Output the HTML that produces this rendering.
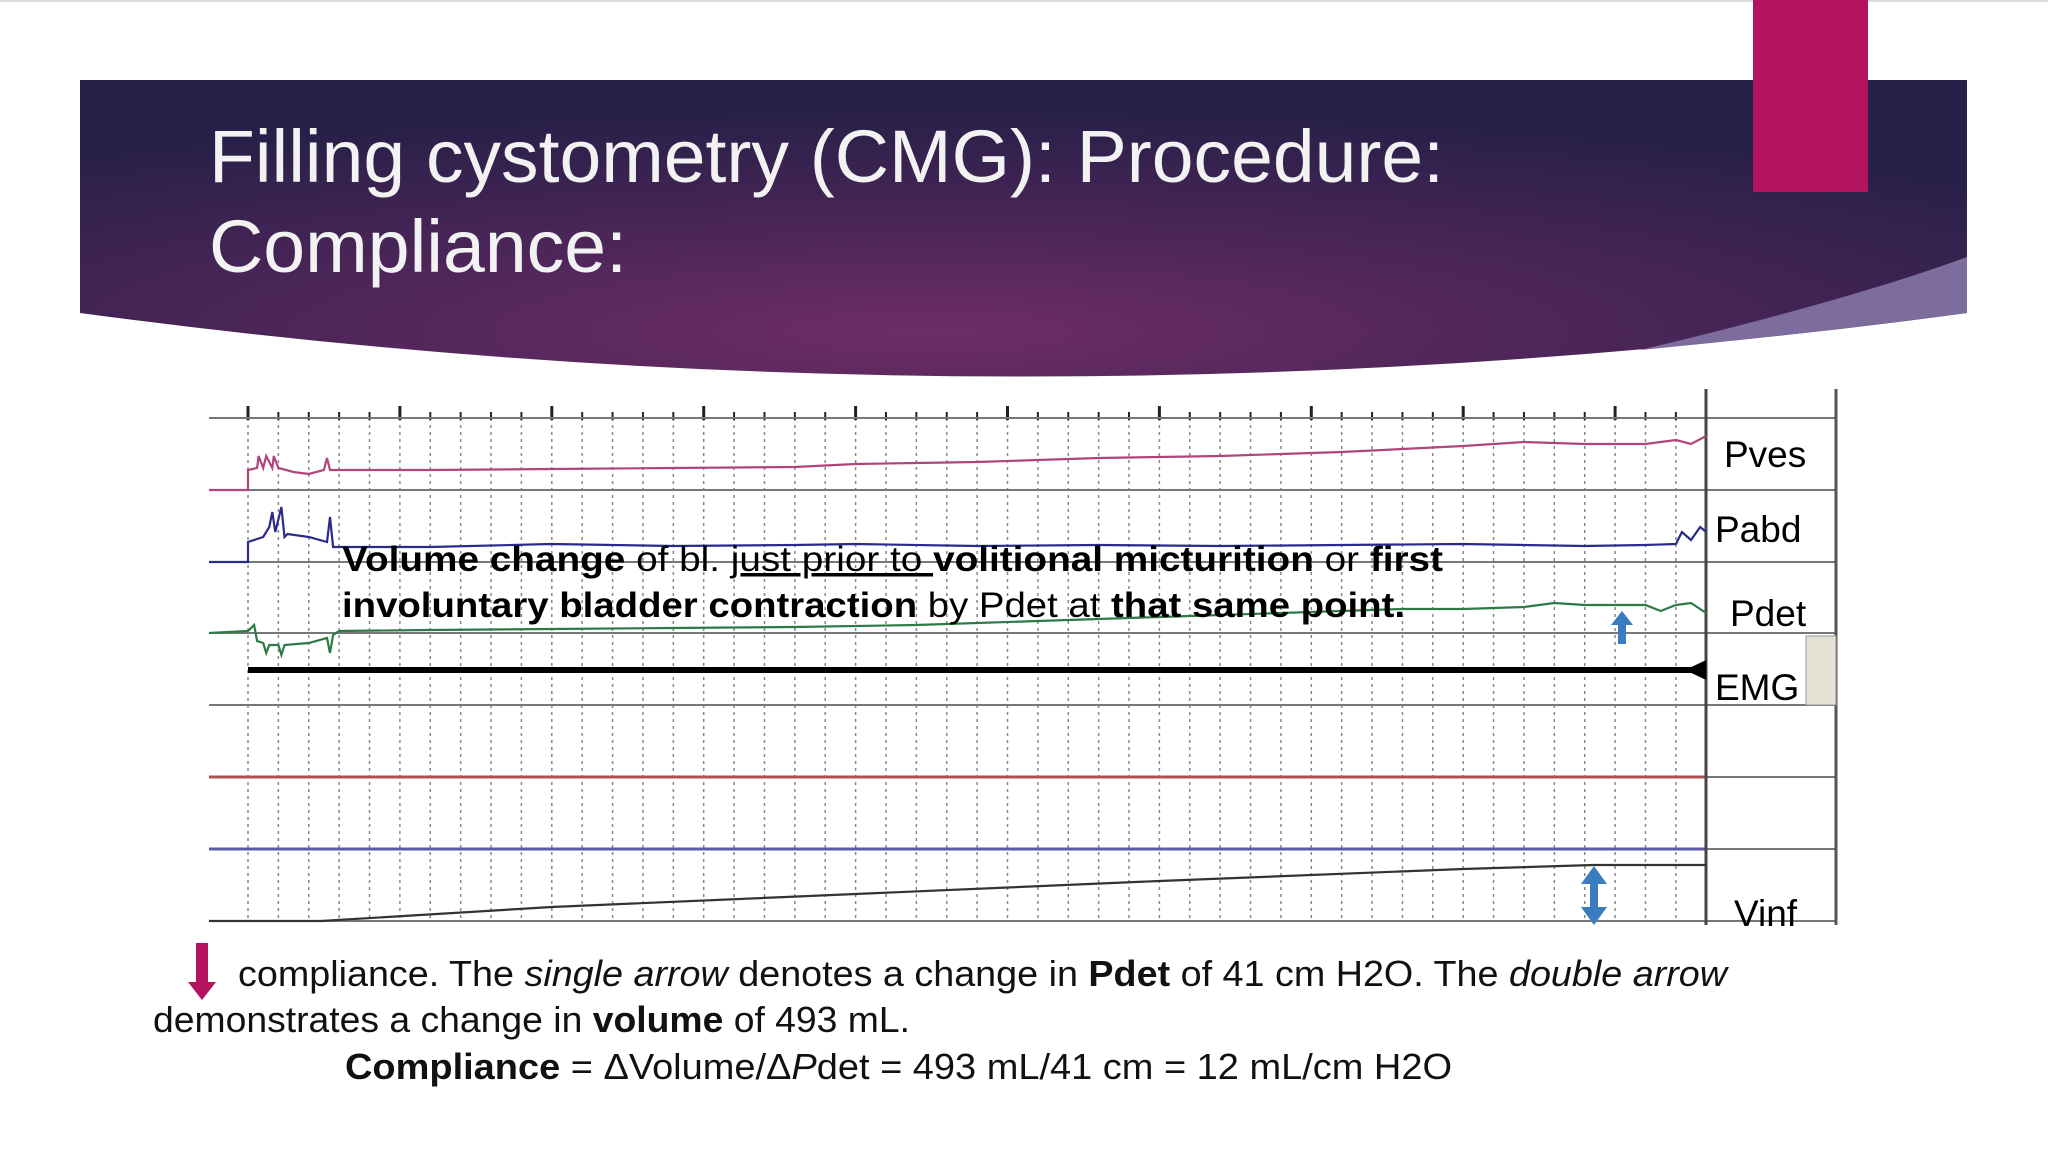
<!DOCTYPE html>
<html><head><meta charset="utf-8"><style>
html,body{margin:0;padding:0;background:#fff;}
svg{display:block;}
</style></head><body>
<svg width="2048" height="1152" viewBox="0 0 2048 1152" xmlns="http://www.w3.org/2000/svg">
<defs>
<radialGradient id="bg" cx="0.45" cy="0.85" r="0.75">
<stop offset="0" stop-color="#6e2d66"/><stop offset="0.5" stop-color="#4a2558"/><stop offset="1" stop-color="#272048"/>
</radialGradient>
</defs>
<line x1="0" y1="1" x2="2048" y2="1" stroke="#ddd" stroke-width="2"/>
<path d="M80 80 H1967 V313 Q1024 440 80 313 Z" fill="url(#bg)"/>
<path d="M1967 257 V313 Q1800 335 1640 350 Q1850 300 1967 257 Z" fill="#7d6c9e"/>
<rect x="1753" y="0" width="115" height="192" fill="#b3135f"/>
<text font-family="Liberation Sans, sans-serif" font-size="74" fill="#f2f2f2">
<tspan x="209" y="182" textLength="1235" lengthAdjust="spacingAndGlyphs">Filling cystometry (CMG): Procedure:</tspan>
<tspan x="209" y="272" textLength="418" lengthAdjust="spacingAndGlyphs">Compliance:</tspan></text>
<g id="chart"></g>
<text x="1724" y="467" font-family="Liberation Sans, sans-serif" font-size="37">Pves</text>
<text x="1715" y="542" font-family="Liberation Sans, sans-serif" font-size="37">Pabd</text>
<text x="1730" y="626" font-family="Liberation Sans, sans-serif" font-size="37">Pdet</text>
<text x="1715" y="700" font-family="Liberation Sans, sans-serif" font-size="37">EMG</text>
<text x="1734" y="926" font-family="Liberation Sans, sans-serif" font-size="37">Vinf</text>
<rect x="1806" y="636" width="30" height="69" fill="#e4e2d4" stroke="#999"/>
<text font-family="Liberation Sans, sans-serif" font-size="35" fill="#000">
<tspan x="342" y="571" textLength="1101" lengthAdjust="spacingAndGlyphs"><tspan font-weight="bold">Volume change</tspan> of bl. <tspan text-decoration="underline">just prior to </tspan><tspan font-weight="bold">volitional micturition</tspan> or  <tspan font-weight="bold">first</tspan></tspan>
<tspan x="342" y="617" textLength="1063" lengthAdjust="spacingAndGlyphs"><tspan font-weight="bold">involuntary bladder contraction</tspan> by Pdet at <tspan font-weight="bold">that same point.</tspan></tspan></text>
<g fill="#3a7cc0"><path d="M1622 611 L1633 625 H1626 V644 H1618 V625 H1611 Z"/></g>
<g fill="#3a7cc0"><path d="M1594 866 L1607 884 H1598 V907 H1607 L1594 925 L1581 907 H1590 V884 H1581 Z"/></g>
<path d="M196 943 H208 V982 H216 L202 1000 L188 982 H196 Z" fill="#b3135f"/>
<text font-family="Liberation Sans, sans-serif" font-size="36" fill="#111">
<tspan x="238" y="986" textLength="1489" lengthAdjust="spacingAndGlyphs">compliance. The <tspan font-style="italic">single arrow</tspan> denotes a change in <tspan font-weight="bold">Pdet</tspan> of 41 cm H2O. The <tspan font-style="italic">double arrow</tspan></tspan>
<tspan x="153" y="1032" textLength="757" lengthAdjust="spacingAndGlyphs">demonstrates a change in <tspan font-weight="bold">volume</tspan> of 493 mL.</tspan>
<tspan x="345" y="1079" textLength="1107" lengthAdjust="spacingAndGlyphs"><tspan font-weight="bold">Compliance</tspan> = ΔVolume/Δ<tspan font-style="italic">P</tspan>det = 493 mL/41 cm = 12 mL/cm H2O</tspan></text>
</svg>
<script>
// time in grid units (0..48), values = height above channel baseline
const pvesT=[-2,0,0,0.3,0.35,0.5,0.6,0.8,0.85,1,1.5,2,2.5,2.6,2.7,3,6,10,14,18,20,22,24,26,28,30,32,34,36,38,40,42,44,46,47,47.5,48];
const pvesV=[0,0,20,22,34,22,34,22,34,22,18,16,20,32,20,20,20,21,22,23,26,27,28,30,32,33,34,36,38,41,44,48,46,46,50,46,54];
const pabdT=[-2,0,0,0.5,0.7,0.8,0.9,1.1,1.2,1.3,2,2.6,2.7,2.8,3,6,10,14,18,20,24,28,32,36,40,44,46,47,47.2,47.5,47.8,48];
const pabdV=[0,0,20,25,35,50,30,55,25,28,25,20,45,15,15,15,18,16,17,18,16,17,16,17,18,16,17,18,30,22,35,30];
const pdetT=[-2,0,0.2,0.3,0.5,0.6,0.7,1,1.1,1.2,2,2.6,2.7,2.8,3,6,10,14,18,22,26,30,34,38,40,42,43,44,46,46.5,47,47.5,48];
const pdetV=[0,2,8,-8,-10,-20,-12,-12,-22,-12,-10,-5,-20,-2,2,3,4,5,6,8,12,16,20,24,24,26,30,28,28,22,28,30,20];
const vinfT=[-2,2.4,10,20,30,40,44.3,48];
const vinfV=[0,0,14,27,40,52,56,56];
const majorTicks=[0,5,10,15,20,25,30,35,40,45];

const NS='http://www.w3.org/2000/svg';
const g=document.getElementById('chart');
const X0=248,DX=30.38;
function xs(t){return X0+t*DX;}
function mk(tag,attrs){const e=document.createElementNS(NS,tag);for(const k in attrs)e.setAttribute(k,attrs[k]);g.appendChild(e);return e;}
const rows=[418,490,562,633,705,777,849,921];
// grid verticals
for(let i=0;i<=48;i++){
  const l=mk('line',{x1:xs(i),y1:418,x2:xs(i),y2:921,stroke:'#888','stroke-width':1.5,'stroke-dasharray':'3 4'});
  
  
  const tk=mk('line',{x1:xs(i),y1:412,x2:xs(i),y2:420,stroke:'#222','stroke-width':2});
  
  
}
majorTicks.forEach(m=>{const tk=mk('line',{x1:xs(m),y1:406,x2:xs(m),y2:420,stroke:'#222','stroke-width':3});
  
  });
// horizontal channel lines
const hcol=['#666','#666','#666','#666','#666','#b05050','#5a5aa8','#666'];
rows.forEach((y,i)=>{const l=mk('line',{x1:209,y1:y,x2:1836,y2:y,stroke:'#777','stroke-width':2});
  
  
  if(i===5||i===6){const c=mk('line',{x1:209,y1:y,x2:1706,y2:y,stroke:hcol[i],'stroke-width':3});
    
    }
});
const dv=mk('line',{x1:1706,y1:389,x2:1706,y2:925,stroke:'#444','stroke-width':3});


const rb=mk('line',{x1:1836,y1:389,x2:1836,y2:925,stroke:'#555','stroke-width':3});


function trace(T,V,base,color,name){
  const pts=T.map((t,i)=>`${Math.max(209,xs(t)).toFixed(1)},${(base-V[i]).toFixed(1)}`).join(' ');
  const p=mk('polyline',{points:pts,fill:'none',stroke:color,'stroke-width':2.2});
  
  
}
trace(pvesT,pvesV,490,'#b0457a','pves-trace');
trace(pabdT,pabdV,562,'#2a2a8a','pabd-trace');
trace(pdetT,pdetV,633,'#2e7a45','pdet-trace');
trace(vinfT,vinfV,921,'#333','vinf-trace');
const emg=mk('line',{x1:xs(0),y1:670,x2:xs(48),y2:670,stroke:'#000','stroke-width':6});


const eh=mk('path',{d:`M${xs(47.3)} 670 L${xs(48)} 660 L${xs(48)} 680 Z`,fill:'#000'});


</script>
</body></html>
